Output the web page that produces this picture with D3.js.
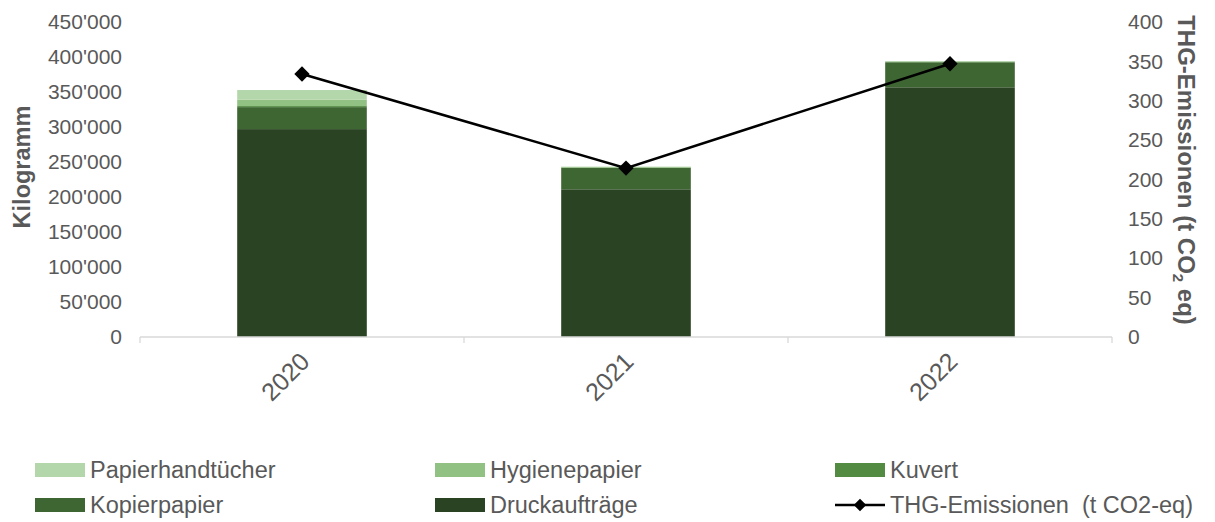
<!DOCTYPE html>
<html><head><meta charset="utf-8">
<script src="https://cdn.jsdelivr.net/npm/d3@7"></script>
<style>body{margin:0;background:#fff;} text{font-family:"Liberation Sans",Arial,sans-serif;}</style>
</head><body>
<svg id="c" width="1215" height="522"></svg>
<script>
const years = ["2020","2021","2022"];
const seriesNames = ["Druckaufträge","Kopierpapier","Kuvert","Hygienepapier","Papierhandtücher"];
const druckauftraege = [297000, 211000, 356700];
const kopierpapier   = [31400, 30400, 35700];
const kuvert         = [1500, 600, 700];
const hygienepapier  = [9000, 900, 700];
const papierhand     = [13900, 500, 500];
const thg            = [334, 214.5, 347];
const leftTicks  = [0,50000,100000,150000,200000,250000,300000,350000,400000,450000];
const rightTicks = [0,50,100,150,200,250,300,350,400];
const colors = {"Druckaufträge":"#2a4322","Kopierpapier":"#3e6633","Kuvert":"#548b43","Hygienepapier":"#92c184","Papierhandtücher":"#b3d6aa"};

const svg = d3.select("#c");
const L = 140, R = 1112, T = 22, B = 337;
const x = d3.scaleBand().domain(years).range([L,R]).paddingInner(0.6).paddingOuter(0.3);
const y = d3.scaleLinear().domain([0,450000]).range([B,T]);
const y2 = d3.scaleLinear().domain([0,400]).range([B,T]);
const xc = d3.scalePoint().domain(years).range([L,R]).padding(0.5);

const rows = years.map((yr,i)=>({year:yr,"Druckaufträge":druckauftraege[i],"Kopierpapier":kopierpapier[i],"Kuvert":kuvert[i],"Hygienepapier":hygienepapier[i],"Papierhandtücher":papierhand[i]}));
const stack = d3.stack().keys(seriesNames)(rows);

svg.append("g").selectAll("g").data(stack).join("g").attr("fill",d=>colors[d.key])
  .selectAll("rect").data(d=>d).join("rect")
  .attr("x",d=>x(d.data.year)).attr("width",x.bandwidth())
  .attr("y",d=>y(d[1])).attr("height",d=>y(d[0])-y(d[1]));

// x axis baseline
const xa = svg.append("g").attr("transform",`translate(0,${B})`);
xa.append("line").attr("x1",L).attr("x2",R).attr("stroke","#d9d9d9").attr("stroke-width",1.3);
const step = (R-L)/years.length;
d3.range(years.length+1).forEach(i=>{
  xa.append("line").attr("x1",L+i*step).attr("x2",L+i*step).attr("y1",0).attr("y2",6).attr("stroke","#d9d9d9").attr("stroke-width",1.3);
});
years.forEach(yr=>{
  svg.append("text").text(yr).attr("font-size",25).attr("fill","#595959")
    .attr("text-anchor","end")
    .attr("transform",`translate(${xc(yr)+3},${B+20}) rotate(-45)`).attr("dy","0.35em");
});

// left axis
const fmt = v => v===0 ? "0" : d3.format(",")(v).replace(/,/g,"'");
const la = svg.append("g").attr("transform",`translate(${L},0)`)
  .call(d3.axisLeft(y).tickValues(leftTicks).tickFormat(fmt).tickSize(0).tickPadding(18));
la.select(".domain").remove();
la.selectAll("text").attr("font-size",21).attr("fill","#595959").attr("font-family","Liberation Sans, Arial, sans-serif");

const ra = svg.append("g").attr("transform",`translate(${R},0)`)
  .call(d3.axisRight(y2).tickValues(rightTicks).tickSize(0).tickPadding(16));
ra.select(".domain").remove();
ra.selectAll("text").attr("font-size",21).attr("fill","#595959").attr("font-family","Liberation Sans, Arial, sans-serif");

svg.append("text").text("Kilogramm").attr("font-size",23.5).attr("font-weight","bold").attr("fill","#595959")
  .attr("text-anchor","middle").attr("transform",`translate(30,167) rotate(-90)`);
const rt = svg.append("text").attr("font-size",24).attr("font-weight","bold").attr("fill","#595959")
  .attr("text-anchor","middle").attr("transform",`translate(1178,170) rotate(90)`);
rt.append("tspan").text("THG-Emissionen (t CO");
rt.append("tspan").text("2").attr("font-size",15).attr("dy",5);
rt.append("tspan").text(" eq)").attr("dy",-5);

// line
const line = d3.line().x((d,i)=>xc(years[i])).y(d=>y2(d));
svg.append("path").datum(thg).attr("d",line).attr("fill","none").attr("stroke","#000").attr("stroke-width",2.5);
const diamond = d3.symbol().type(d3.symbolDiamond2).size(150);
svg.append("g").selectAll("path").data(thg).join("path")
  .attr("d",diamond).attr("transform",(d,i)=>`translate(${xc(years[i])},${y2(d)})`).attr("fill","#000");

// legend
const legend = [
  {name:"Papierhandtücher", col:0,row:0},
  {name:"Hygienepapier", col:1,row:0},
  {name:"Kuvert", col:2,row:0},
  {name:"Kopierpapier", col:0,row:1},
  {name:"Druckaufträge", col:1,row:1},
  {name:"THG-Emissionen  (t CO2-eq)", col:2,row:1, line:true}
];
const lg = svg.append("g");
legend.forEach(d=>{
  const lx = 35 + d.col*400, ly = 470 + d.row*35;
  if(d.line){
    lg.append("line").attr("x1",lx).attr("x2",lx+50).attr("y1",ly).attr("y2",ly).attr("stroke","#000").attr("stroke-width",2.5);
    lg.append("path").attr("d",d3.symbol().type(d3.symbolDiamond2).size(100)).attr("transform",`translate(${lx+25},${ly})`);
  } else {
    lg.append("rect").attr("x",lx).attr("y",ly-7).attr("width",50).attr("height",14).attr("fill",colors[d.name]);
  }
  lg.append("text").text(d.name).attr("x",lx+55).attr("y",ly).attr("dy","0.35em").attr("font-size",23.5).attr("fill","#595959").style("white-space","pre");
});
</script>
</body></html>
